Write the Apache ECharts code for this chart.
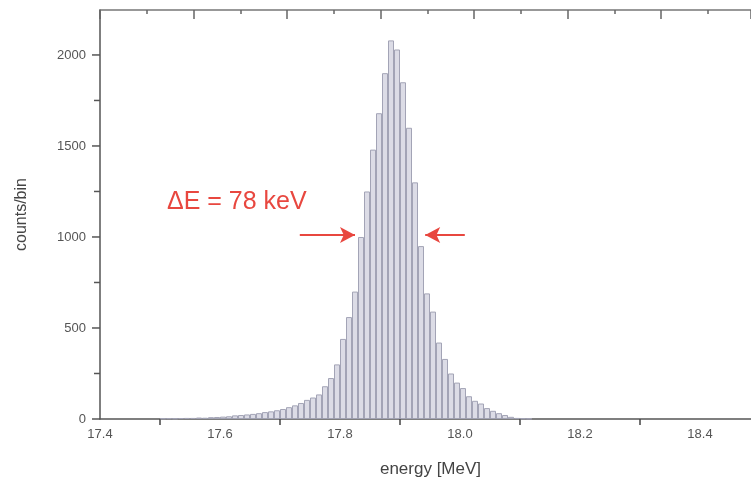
<!DOCTYPE html>
<html>
<head>
<meta charset="utf-8">
<script src="https://cdn.jsdelivr.net/npm/echarts@6/dist/echarts.min.js"></script>
<style>
  html, body { margin: 0; padding: 0; background: #fff; }
  #chart { width: 751px; height: 493px; }
</style>
</head>
<body>
<div id="chart"></div>
<script>
  // bin centres [MeV]
  const energies = [
    17.505, 17.515, 17.525, 17.535, 17.545, 17.555, 17.565, 17.575, 17.585, 17.595,
    17.605, 17.615, 17.625, 17.635, 17.645, 17.655, 17.665, 17.675, 17.685, 17.695,
    17.705, 17.715, 17.725, 17.735, 17.745, 17.755, 17.765, 17.775, 17.785, 17.795,
    17.805, 17.815, 17.825, 17.835, 17.845, 17.855, 17.865, 17.875, 17.885, 17.895,
    17.905, 17.915, 17.925, 17.935, 17.945, 17.955, 17.965, 17.975, 17.985, 17.995,
    18.005, 18.015, 18.025, 18.035, 18.045, 18.055, 18.065, 18.075, 18.085, 18.095,
    18.105, 18.115
  ];
  // counts per bin
  const counts = [
    3, 4, 3, 5, 6, 6, 8, 7, 10, 11,
    13, 15, 20, 22, 25, 28, 32, 38, 42, 48,
    55, 65, 75, 88, 105, 118, 135, 180, 225, 300,
    440, 560, 700, 1000, 1250, 1480, 1680, 1900, 2080, 2030,
    1850, 1600, 1300, 950, 690, 590, 420, 330, 250, 200,
    170, 125, 100, 85, 60, 45, 32, 22, 12, 6,
    3, 2
  ];
  const xTicks = [17.4, 17.6, 17.8, 18.0, 18.2, 18.4];
  const yTicks = [0, 500, 1000, 1500, 2000];
  const yTickMarks = [0, 250, 500, 750, 1000, 1250, 1500, 1750, 2000];
  const annotation = 'ΔE = 78 keV';

  const font = 'Liberation Sans, Arial, sans-serif';
  const red = '#e8473f';
  const chart = echarts.init(document.getElementById('chart'), null, {renderer: 'canvas'});

  chart.setOption({
    animation: false,
    backgroundColor: '#fff',
    textStyle: {fontFamily: font},
    grid: {left: 100, top: 10, right: 0, height: 409, containLabel: false},
    xAxis: [
      {
        type: 'value',
        min: 17.4,
        max: 17.4 + 651 / 600,
        interval: 0.2,
        name: 'energy [MeV]',
        nameLocation: 'middle',
        nameGap: 42,
        nameTextStyle: {color: '#444', fontSize: 17, fontFamily: font, padding: [0, 0, 0, 10]},
        axisLine: {show: true, onZero: false, lineStyle: {color: '#555', width: 1.5}},
        axisTick: {show: false},
        minorTick: {show: true, splitNumber: 2, length: 6, lineStyle: {color: '#444', width: 1.5}},
        axisLabel: {
          color: '#555', fontSize: 13, margin: 9, fontFamily: font,
          customValues: xTicks,
          formatter: v => v.toFixed(1)
        },
        splitLine: {show: false},
        minorSplitLine: {show: false}
      },
      {
        // frame on top, ticks only
        type: 'value',
        position: 'top',
        min: 0,
        max: 651,
        interval: 93.5,
        axisLine: {show: true, onZero: false, lineStyle: {color: '#777', width: 1.5}},
        axisTick: {show: true, inside: true, length: 9, lineStyle: {color: '#666', width: 1.5}},
        minorTick: {show: true, splitNumber: 2, length: 4, lineStyle: {color: '#666', width: 1.5}},
        axisLabel: {show: false},
        splitLine: {show: false},
        minorSplitLine: {show: false}
      }
    ],
    yAxis: {
      type: 'value',
      min: 0,
      max: 2247,
      interval: 250,
      name: 'counts/bin',
      nameLocation: 'middle',
      nameGap: 70,
      nameRotate: 90,
      nameTextStyle: {color: '#444', fontSize: 16, fontFamily: font},
      axisLine: {show: true, lineStyle: {color: '#555', width: 1.5}},
      axisTick: {show: false},
      axisLabel: {
        color: '#555', fontSize: 13, margin: 14, fontFamily: font,
        customValues: yTicks,
        formatter: v => String(v)
      },
      splitLine: {show: false},
      minorSplitLine: {show: false}
    },
    graphic: [
      {
        type: 'text',
        left: 167,
        top: 190,
        style: {text: annotation, fill: red, font: '25px ' + font}
      }
    ],
    series: [
      {
        type: 'bar',
        xAxisIndex: 0,
        yAxisIndex: 0,
        barWidth: 6,
        data: energies.map((e, i) => [e, counts[i]]),
        itemStyle: {color: '#dcdce6', borderColor: '#a3a4b6', borderWidth: 1},
        markLine: {
          silent: true,
          symbol: ['none', 'arrow'],
          symbolSize: [12, 15],
          label: {show: false},
          lineStyle: {color: red, width: 1.8, type: 'solid'},
          data: [
            [{coord: [17.733, 1011]}, {coord: [17.825, 1011]}],
            [{coord: [18.008, 1011]}, {coord: [17.942, 1011]}]
          ]
        }
      },
      {
        // tick marks on the counts axis: long at labels, short in between
        // (axis ticks would add one more at the top edge)
        type: 'custom',
        silent: true,
        xAxisIndex: 0,
        yAxisIndex: 0,
        data: yTickMarks,
        renderItem(params, api) {
          const v = api.value(0);
          const p = api.coord([17.4, v]);
          const len = v % 500 === 0 ? 8 : 6;
          return {
            type: 'line',
            shape: {x1: p[0] - len, y1: p[1], x2: p[0], y2: p[1]},
            style: {stroke: '#555', lineWidth: 1.5}
          };
        },
        clip: false,
        encode: {y: 0}
      }
    ]
  });
</script>
</body>
</html>
